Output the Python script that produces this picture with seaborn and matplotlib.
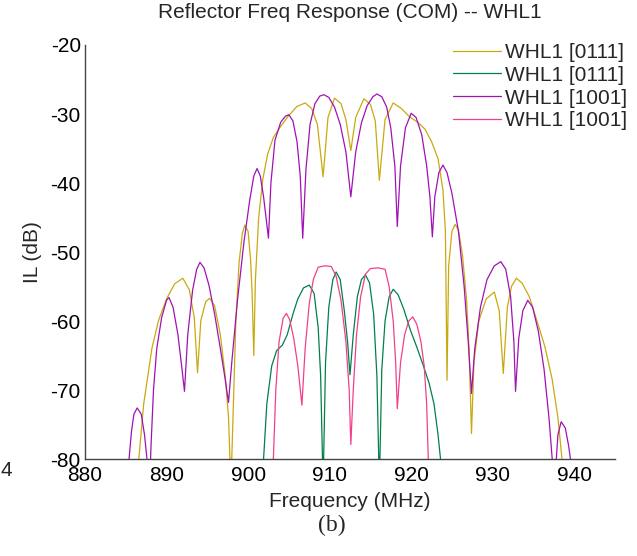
import matplotlib
matplotlib.use("Agg")
import matplotlib.pyplot as plt
import seaborn as sns
import pandas as pd

# WHL1 [0111] - large response (yellow)
freq_y = [886.2, 886.6, 887.2, 888.2, 889.0, 890.0, 891.0, 892.0, 892.8, 893.4,
          893.8, 894.2, 894.8, 895.3, 895.9, 896.6, 897.2, 897.6, 897.9, 898.2,
          898.5, 898.9, 899.3, 899.6, 900.0, 900.3, 900.5, 900.7, 900.9, 901.3,
          901.8, 902.4, 903.1, 904.0, 905.0, 906.0, 907.0, 907.8, 908.5, 909.2,
          909.8, 910.6, 911.4, 912.0, 912.6, 913.2, 914.2, 915.0, 915.6, 916.1,
          916.8, 917.8, 918.8, 919.8, 920.8, 921.7, 922.5, 923.3, 923.9, 924.2,
          924.4, 924.6, 925.0, 925.4, 925.8, 926.3, 926.8, 927.1, 927.4, 927.7,
          928.3, 929.2, 930.2, 930.8, 931.3, 931.8, 932.3, 932.9, 933.6, 934.5,
          935.3, 936.4, 937.3, 938.0, 938.5, 938.8]
il_y = [-84, -80, -72, -64, -60, -56.8, -54.6, -53.8, -55.5, -59.5,
        -67.5, -60, -57.2, -56.7, -57.8, -62, -68, -74, -84, -72,
        -60, -51.5, -47.3, -46.1, -47, -51, -56, -65, -54, -45,
        -39.5, -35.8, -33.4, -31.8, -30.2, -28.9, -28.4, -29.2, -31.5, -39.1,
        -30.5, -27.7, -28.5, -30.8, -35.3, -30.5, -27.8, -28.6, -31, -39.6,
        -30.8, -28.4, -29.2, -30.4, -31.2, -32.2, -34, -36.5, -41, -47,
        -68.6, -52, -47, -46, -46.8, -50.5, -57, -64, -76.3, -66,
        -60, -56.8, -55.8, -58.5, -67.6, -58, -55, -53.8, -54.5, -56.5,
        -59.5, -63.7, -68.5, -74, -80, -84]

# WHL1 [0111] - small response (green)
freq_g = [901.6, 901.9, 902.3, 902.9, 903.5, 904.2, 904.8, 905.5, 906.1, 906.8,
          907.5, 908.1, 908.6, 908.9, 909.2, 909.5, 909.9, 910.4, 910.8, 911.3,
          911.8, 912.2, 912.5, 912.9, 913.4, 913.9, 914.4, 914.9, 915.4, 915.8,
          916.1, 916.4, 916.8, 917.3, 917.8, 918.4, 919.1, 919.9, 920.7, 921.5,
          922.2, 922.8, 923.3, 923.6, 923.9]
il_g = [-86, -80, -72, -66.5, -64.3, -63.5, -62, -59, -56.8, -55.2,
        -54.8, -56, -61, -68, -84, -66, -58, -54, -52.9, -54,
        -58.5, -63, -67.8, -62, -56.5, -54, -53.3, -54.5, -59, -68,
        -84, -67, -60, -56.5, -55.4, -56.2, -58.3, -61.3, -63.8, -66.5,
        -69, -72, -76.5, -80, -86]

# WHL1 [1001] - large response (purple)
freq_p = [885.0, 885.4, 885.7, 886.0, 886.4, 886.9, 887.3, 887.6, 887.8, 888.1,
          888.4, 888.8, 889.4, 890.0, 890.3, 890.8, 891.4, 891.9, 892.2, 892.6,
          893.2, 893.7, 894.1, 894.6, 895.2, 895.9, 896.6, 897.2, 897.6, 898.0,
          898.7, 899.5, 900.2, 900.7, 901.1, 901.5, 901.9, 902.3, 902.5, 902.8,
          903.3, 904.0, 904.6, 905.0, 905.5, 906.0, 906.4, 906.7, 907.1, 907.6,
          908.2, 908.8, 909.3, 909.9, 910.6, 911.3, 912.0, 912.6, 913.2, 913.9,
          914.6, 915.3, 915.8, 916.4, 917.0, 917.5, 918.0, 918.3, 918.7, 919.3,
          920.0, 920.6, 921.3, 921.9, 922.3, 922.6, 922.9, 923.4, 923.9, 924.4,
          925.0, 925.8, 926.5, 927.0, 927.4, 927.8, 928.5, 929.3, 930.2, 931.0,
          931.6, 932.2, 932.6, 932.8, 933.2, 933.7, 934.3, 934.9, 935.6, 936.3,
          936.9, 937.3, 937.5, 937.8, 938.0, 938.4, 938.9, 939.3, 939.6, 939.8]
il_p = [-84, -80, -76, -73.5, -72.6, -73.5, -76.5, -80, -88, -78,
        -70, -64, -59.5, -57, -56.6, -58, -62, -67, -70.2, -62,
        -55.5, -52.5, -51.5, -52.3, -54.8, -59, -64, -68.5, -71.8, -66,
        -57, -48.5, -42.5, -39, -37.9, -39, -42, -46, -48, -40,
        -33.8, -31.2, -30.3, -30.1, -31, -34, -39, -48, -38, -31.5,
        -28.5, -27.4, -27.2, -27.6, -29, -31.5, -35.5, -42, -35.5, -31.3,
        -28.8, -27.5, -27.1, -27.5, -29, -32, -37.5, -46.3, -37.5, -32,
        -29.9, -30.5, -33, -37.5, -42, -47.8, -42, -38.5, -37.4, -38.5,
        -41.5, -47, -55, -63, -70.5, -64, -58, -54, -52, -51.4,
        -52.5, -56.5, -63, -70.2, -62.5, -58.5, -57, -58, -61.5, -67,
        -74, -80, -88, -80, -76.5, -74.6, -75.5, -78, -80.5, -86]

# WHL1 [1001] - small response (pink)
freq_k = [902.8, 903.1, 903.4, 903.8, 904.3, 904.7, 905.1, 905.6, 906.1, 906.6,
          907.0, 907.5, 908.0, 908.6, 909.4, 910.2, 910.8, 911.4, 912.0, 912.4,
          912.6, 912.9, 913.3, 913.8, 914.4, 915.0, 915.9, 916.8, 917.3, 917.8,
          918.1, 918.3, 918.7, 919.2, 919.7, 920.2, 920.7, 921.2, 921.6, 921.9,
          922.1, 922.3]
il_k = [-86, -80, -70, -63, -59.6, -58.9, -59.8, -62.5, -66.5, -72.2,
        -64, -57.5, -54, -52.2, -52.0, -52.1, -53.5, -57, -63, -70,
        -77.9, -70, -62, -56.5, -53.2, -52.4, -52.3, -52.5, -55, -60,
        -66, -72.7, -66, -62, -60, -59.4, -60.5, -63, -66.5, -72,
        -80, -86]

labels = ["WHL1 [0111]", "WHL1 [0111]", "WHL1 [1001]", "WHL1 [1001]"]
colors = ["#c8aa10", "#00804a", "#a012b4", "#f0408c"]
x_ticks = [880, 890, 900, 910, 920, 930, 940]
y_ticks = [-80, -70, -60, -50, -40, -30, -20]

sns.set_style("white")
plt.rcParams["font.family"] = ["Liberation Sans", "DejaVu Sans"]
plt.rcParams["axes.unicode_minus"] = False

fig = plt.figure(figsize=(6.37, 5.56), dpi=100)
ax = fig.add_axes([85 / 637, 1 - 459 / 556, 530 / 637, 414 / 556])

series = [(freq_y, il_y), (freq_g, il_g), (freq_p, il_p), (freq_k, il_k)]
for (f, il), lab, col in zip(series, labels, colors):
    df = pd.DataFrame({"freq": f, "il": il})
    sns.lineplot(data=df, x="freq", y="il", color=col, label=lab, ax=ax,
                 estimator=None, sort=False, linewidth=0.9)

ax.set_xlim(880, 945)
ax.set_ylim(-80, -20)
ax.set_xticks(x_ticks)
ax.set_yticks(y_ticks)
ax.tick_params(direction="in", length=3, width=0.8, colors="#333333",
               labelcolor="black", labelsize=15, pad=3)
ax.tick_params(axis="x", pad=5)
for s in ["top", "right"]:
    ax.spines[s].set_visible(False)
for s in ["left", "bottom"]:
    ax.spines[s].set_color("#444444")
    ax.spines[s].set_linewidth(1.0)

ax.set_xlabel("Frequency (MHz)", fontsize=15, labelpad=5)
ax.set_ylabel("IL (dB)", fontsize=15, labelpad=6)
fig.text(350 / 637, 1 - 13 / 556, "Reflector Freq Response (COM) -- WHL1",
         ha="center", va="center", fontsize=15)

ax.legend(loc="upper right", bbox_to_anchor=(627 / 637, 1 - 43 / 556),
          bbox_transform=fig.transFigure, frameon=False, fontsize=15,
          handlelength=2.3, handletextpad=0.2, labelspacing=0.18,
          borderaxespad=0, borderpad=0)

# caption and the label left over from the neighbouring panel
fig.text(332 / 637, 1 - 525 / 556, "(b)", ha="center", va="center",
         fontsize=17, family="Liberation Serif")
fig.text(0.001, 1 - 470 / 556, "4", ha="left", va="center", fontsize=15)

fig.savefig("out.png", dpi=100)
